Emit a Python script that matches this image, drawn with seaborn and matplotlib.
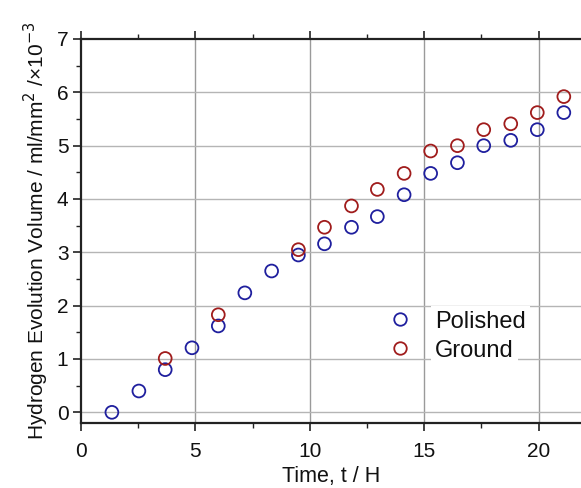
import matplotlib
matplotlib.use("Agg")
import matplotlib.pyplot as plt
import seaborn as sns
import pandas as pd
from matplotlib.lines import Line2D
from matplotlib.ticker import MultipleLocator

polished_t = [1.35, 2.53, 3.68, 4.85, 6.0, 7.16, 8.33, 9.5, 10.64, 11.82, 12.95, 14.12, 15.28, 16.45, 17.6, 18.78, 19.94, 21.1]
polished_v = [0.0, 0.40, 0.80, 1.21, 1.62, 2.24, 2.65, 2.95, 3.16, 3.47, 3.67, 4.08, 4.48, 4.68, 5.0, 5.10, 5.30, 5.62]
ground_t = [3.68, 6.0, 9.5, 10.64, 11.82, 12.95, 14.12, 15.28, 16.45, 17.6, 18.78, 19.94, 21.1]
ground_v = [1.01, 1.83, 3.05, 3.47, 3.87, 4.18, 4.48, 4.90, 5.0, 5.30, 5.41, 5.62, 5.92]
series_names = ["Polished", "Ground"]
colors = {"Polished": "#1f1f9e", "Ground": "#a01c1c"}

df = pd.concat([
    pd.DataFrame({"t": polished_t, "v": polished_v, "s": series_names[0]}),
    pd.DataFrame({"t": ground_t, "v": ground_v, "s": series_names[1]}),
])

sns.set_style("white")
plt.rcParams["font.family"] = ["Liberation Sans", "DejaVu Sans"]

fig = plt.figure(figsize=(5.81, 4.88), dpi=100)
ax = fig.add_axes([81/581, 1-423/488, 1-81/581, (423-39)/488])

sns.scatterplot(data=df, x="t", y="v", hue="s", palette=colors, ax=ax,
                s=85, marker="o", linewidth=1.3, legend=False, zorder=3)
for coll in ax.collections:
    fc = coll.get_facecolors()
    coll.set_edgecolors(fc)
    coll.set_facecolors("none")

ax.set_xlim(0, 21.85)
ax.set_ylim(-0.2, 7)
ax.xaxis.set_major_locator(MultipleLocator(5))
ax.xaxis.set_minor_locator(MultipleLocator(2.5))
ax.yaxis.set_major_locator(MultipleLocator(1))
ax.yaxis.set_minor_locator(MultipleLocator(0.5))

ax.grid(False)
for x in [5, 10, 15, 20]:
    ax.axvline(x, color="#9a9a9a", lw=1.0, zorder=1)
for y in range(0, 7):
    ax.axhline(y, color="#b5b5b5", lw=1.0, zorder=1)

for side in ["left", "top", "bottom"]:
    ax.spines[side].set_visible(True)
    ax.spines[side].set_color("#222222")
    ax.spines[side].set_linewidth(1.6)
ax.spines["right"].set_visible(False)

ax.tick_params(axis="both", which="major", direction="out", length=6, width=1.2,
               labelsize=15, color="#222222", labelcolor="#111111")
ax.tick_params(axis="x", which="major", pad=7.5)
ax.tick_params(axis="y", which="major", pad=3)
ax.tick_params(axis="both", which="minor", direction="out", length=3.5, width=1.0, color="#222222")
ax.tick_params(axis="x", which="both", top=True, bottom=True)
ax.tick_params(axis="y", which="both", left=True, right=False)

ax.set_xlabel("Time, t / H", fontsize=15.5, labelpad=4, color="#111111")
ax.set_ylabel("Hydrogen Evolution Volume / ml/mm$^2$ /\u00d710$^{-3}$", fontsize=15, labelpad=4,
              color="#111111")

handles = [Line2D([], [], ls="none", marker="o", markersize=9, markerfacecolor="none",
                  markeredgecolor=colors[n], markeredgewidth=1.3) for n in series_names]
leg = ax.legend(handles, series_names, loc="center left", bbox_to_anchor=(0.576, 0.226),
                frameon=False, fontsize=17, handletextpad=0.9, labelspacing=0.3,
                borderpad=0.2, handlelength=1.2)
for txt in leg.get_texts():
    txt.set_bbox(dict(facecolor="white", edgecolor="none", pad=3))
    txt.set_color("#111111")
leg.set_zorder(5)

fig.savefig("out.png", dpi=100)
